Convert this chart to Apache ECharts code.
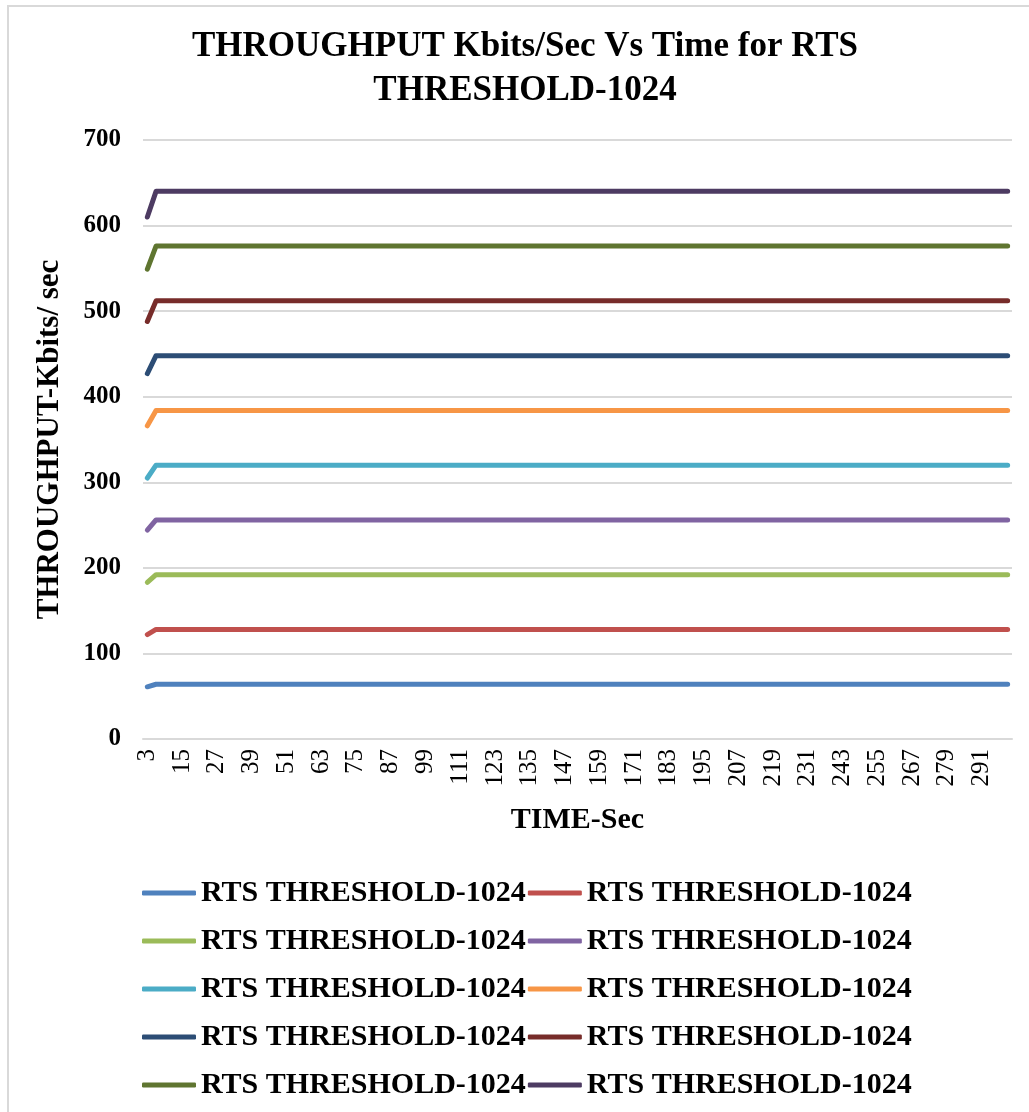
<!DOCTYPE html>
<html>
<head>
<meta charset="utf-8">
<script src="https://cdn.jsdelivr.net/npm/echarts@6/dist/echarts.min.js"></script>
<style>
html,body{margin:0;padding:0;background:#fff;}
#chart{width:1029px;height:1112px;}
</style>
</head>
<body>
<div id="chart"></div>
<script>
// ---- DATA ----
const titleText = 'THROUGHPUT Kbits/Sec Vs Time for RTS\nTHRESHOLD-1024';
const xAxisName = 'TIME-Sec';
const yAxisName = 'THROUGHPUT-Kbits/ sec';
const legendLabel = 'RTS THRESHOLD-1024';

const timeCategories = [
  3,6,9,12,15,18,21,24,27,30,
  33,36,39,42,45,48,51,54,57,60,
  63,66,69,72,75,78,81,84,87,90,
  93,96,99,102,105,108,111,114,117,120,
  123,126,129,132,135,138,141,144,147,150,
  153,156,159,162,165,168,171,174,177,180,
  183,186,189,192,195,198,201,204,207,210,
  213,216,219,222,225,228,231,234,237,240,
  243,246,249,252,255,258,261,264,267,270,
  273,276,279,282,285,288,291,294,297,300
];

const yTicks = [0,100,200,300,400,500,600,700];

const series1 = [
  61,64,64,64,64,64,64,64,64,64,
  64,64,64,64,64,64,64,64,64,64,
  64,64,64,64,64,64,64,64,64,64,
  64,64,64,64,64,64,64,64,64,64,
  64,64,64,64,64,64,64,64,64,64,
  64,64,64,64,64,64,64,64,64,64,
  64,64,64,64,64,64,64,64,64,64,
  64,64,64,64,64,64,64,64,64,64,
  64,64,64,64,64,64,64,64,64,64,
  64,64,64,64,64,64,64,64,64,64
];
const series2 = [
  122,128,128,128,128,128,128,128,128,128,
  128,128,128,128,128,128,128,128,128,128,
  128,128,128,128,128,128,128,128,128,128,
  128,128,128,128,128,128,128,128,128,128,
  128,128,128,128,128,128,128,128,128,128,
  128,128,128,128,128,128,128,128,128,128,
  128,128,128,128,128,128,128,128,128,128,
  128,128,128,128,128,128,128,128,128,128,
  128,128,128,128,128,128,128,128,128,128,
  128,128,128,128,128,128,128,128,128,128
];
const series3 = [
  183,192,192,192,192,192,192,192,192,192,
  192,192,192,192,192,192,192,192,192,192,
  192,192,192,192,192,192,192,192,192,192,
  192,192,192,192,192,192,192,192,192,192,
  192,192,192,192,192,192,192,192,192,192,
  192,192,192,192,192,192,192,192,192,192,
  192,192,192,192,192,192,192,192,192,192,
  192,192,192,192,192,192,192,192,192,192,
  192,192,192,192,192,192,192,192,192,192,
  192,192,192,192,192,192,192,192,192,192
];
const series4 = [
  244,256,256,256,256,256,256,256,256,256,
  256,256,256,256,256,256,256,256,256,256,
  256,256,256,256,256,256,256,256,256,256,
  256,256,256,256,256,256,256,256,256,256,
  256,256,256,256,256,256,256,256,256,256,
  256,256,256,256,256,256,256,256,256,256,
  256,256,256,256,256,256,256,256,256,256,
  256,256,256,256,256,256,256,256,256,256,
  256,256,256,256,256,256,256,256,256,256,
  256,256,256,256,256,256,256,256,256,256
];
const series5 = [
  305,320,320,320,320,320,320,320,320,320,
  320,320,320,320,320,320,320,320,320,320,
  320,320,320,320,320,320,320,320,320,320,
  320,320,320,320,320,320,320,320,320,320,
  320,320,320,320,320,320,320,320,320,320,
  320,320,320,320,320,320,320,320,320,320,
  320,320,320,320,320,320,320,320,320,320,
  320,320,320,320,320,320,320,320,320,320,
  320,320,320,320,320,320,320,320,320,320,
  320,320,320,320,320,320,320,320,320,320
];
const series6 = [
  366,384,384,384,384,384,384,384,384,384,
  384,384,384,384,384,384,384,384,384,384,
  384,384,384,384,384,384,384,384,384,384,
  384,384,384,384,384,384,384,384,384,384,
  384,384,384,384,384,384,384,384,384,384,
  384,384,384,384,384,384,384,384,384,384,
  384,384,384,384,384,384,384,384,384,384,
  384,384,384,384,384,384,384,384,384,384,
  384,384,384,384,384,384,384,384,384,384,
  384,384,384,384,384,384,384,384,384,384
];
const series7 = [
  427,448,448,448,448,448,448,448,448,448,
  448,448,448,448,448,448,448,448,448,448,
  448,448,448,448,448,448,448,448,448,448,
  448,448,448,448,448,448,448,448,448,448,
  448,448,448,448,448,448,448,448,448,448,
  448,448,448,448,448,448,448,448,448,448,
  448,448,448,448,448,448,448,448,448,448,
  448,448,448,448,448,448,448,448,448,448,
  448,448,448,448,448,448,448,448,448,448,
  448,448,448,448,448,448,448,448,448,448
];
const series8 = [
  488,512,512,512,512,512,512,512,512,512,
  512,512,512,512,512,512,512,512,512,512,
  512,512,512,512,512,512,512,512,512,512,
  512,512,512,512,512,512,512,512,512,512,
  512,512,512,512,512,512,512,512,512,512,
  512,512,512,512,512,512,512,512,512,512,
  512,512,512,512,512,512,512,512,512,512,
  512,512,512,512,512,512,512,512,512,512,
  512,512,512,512,512,512,512,512,512,512,
  512,512,512,512,512,512,512,512,512,512
];
const series9 = [
  549,576,576,576,576,576,576,576,576,576,
  576,576,576,576,576,576,576,576,576,576,
  576,576,576,576,576,576,576,576,576,576,
  576,576,576,576,576,576,576,576,576,576,
  576,576,576,576,576,576,576,576,576,576,
  576,576,576,576,576,576,576,576,576,576,
  576,576,576,576,576,576,576,576,576,576,
  576,576,576,576,576,576,576,576,576,576,
  576,576,576,576,576,576,576,576,576,576,
  576,576,576,576,576,576,576,576,576,576
];
const series10 = [
  610,640,640,640,640,640,640,640,640,640,
  640,640,640,640,640,640,640,640,640,640,
  640,640,640,640,640,640,640,640,640,640,
  640,640,640,640,640,640,640,640,640,640,
  640,640,640,640,640,640,640,640,640,640,
  640,640,640,640,640,640,640,640,640,640,
  640,640,640,640,640,640,640,640,640,640,
  640,640,640,640,640,640,640,640,640,640,
  640,640,640,640,640,640,640,640,640,640,
  640,640,640,640,640,640,640,640,640,640
];

const seriesValues = [series1,series2,series3,series4,series5,series6,series7,series8,series9,series10];
const seriesKeys = ['RTS THRESHOLD-1024 (1)','RTS THRESHOLD-1024 (2)','RTS THRESHOLD-1024 (3)','RTS THRESHOLD-1024 (4)','RTS THRESHOLD-1024 (5)',
                    'RTS THRESHOLD-1024 (6)','RTS THRESHOLD-1024 (7)','RTS THRESHOLD-1024 (8)','RTS THRESHOLD-1024 (9)','RTS THRESHOLD-1024 (10)'];
const seriesColors = ['#4F81BD','#C0504D','#9BBB59','#8064A2','#4BACC6','#F79646','#2C4D75','#772C2A','#5F7530','#4D3B62'];

// ---- CHART ----
const FONT = '"Liberation Serif","Times New Roman",serif';
const chart = echarts.init(document.getElementById('chart'));

const series = seriesValues.map((vals, i) => ({
  name: seriesKeys[i],
  type: 'line',
  data: vals,
  showSymbol: false,
  symbol: 'none',
  smooth: false,
  lineStyle: { width: 5, color: seriesColors[i], cap: 'round', join: 'round' },
  itemStyle: { color: seriesColors[i] },
  emphasis: { disabled: true },
  animation: false
}));

chart.setOption({
  backgroundColor: '#ffffff',
  animation: false,
  title: {
    text: titleText,
    left: 520,
    textAlign: 'center',
    top: 20,
    textStyle: { fontFamily: FONT, fontWeight: 'bold', fontSize: 35, lineHeight: 44, color: '#000' }
  },
  graphic: [{
    type: 'rect',
    shape: { x: 8, y: 6, width: 1100, height: 1200 },
    style: { fill: 'none', stroke: '#d9d9d9', lineWidth: 2 },
    silent: true,
    z: -10
  }],
  grid: { left: 143, right: 17, top: 140, bottom: 373, containLabel: false },
  legend: {
    left: 137,
    top: 865,
    width: 800,
    orient: 'horizontal',
    itemGap: 2,
    itemWidth: 54,
    itemHeight: 5,
    icon: 'roundRect',
    data: seriesKeys,
    formatter: function () { return legendLabel; },
    textStyle: { fontFamily: FONT, fontWeight: 'bold', fontSize: 30, color: '#000', lineHeight: 46 },
    selectedMode: false
  },
  xAxis: {
    type: 'category',
    data: timeCategories,
    boundaryGap: true,
    name: xAxisName,
    nameLocation: 'middle',
    nameGap: 66,
    nameTextStyle: { fontFamily: FONT, fontWeight: 'bold', fontSize: 30, color: '#000' },
    axisLine: { show: true, lineStyle: { color: '#d9d9d9', width: 2 } },
    axisTick: { show: false },
    axisLabel: {
      interval: 3,
      rotate: 90,
      margin: 10,
      fontFamily: FONT,
      fontSize: 25,
      color: '#000'
    },
    splitLine: { show: false }
  },
  yAxis: {
    type: 'value',
    min: yTicks[0],
    max: yTicks[yTicks.length - 1],
    interval: 100,
    name: yAxisName,
    nameLocation: 'middle',
    nameGap: 78,
    nameTextStyle: { fontFamily: FONT, fontWeight: 'bold', fontSize: 31, color: '#000' },
    axisLine: { show: false },
    axisTick: { show: false },
    axisLabel: { fontFamily: FONT, fontWeight: 'bold', fontSize: 25, color: '#000', margin: 22 },
    splitLine: { show: true, lineStyle: { color: '#d9d9d9', width: 2 } }
  },
  series: series
});
</script>
</body>
</html>
